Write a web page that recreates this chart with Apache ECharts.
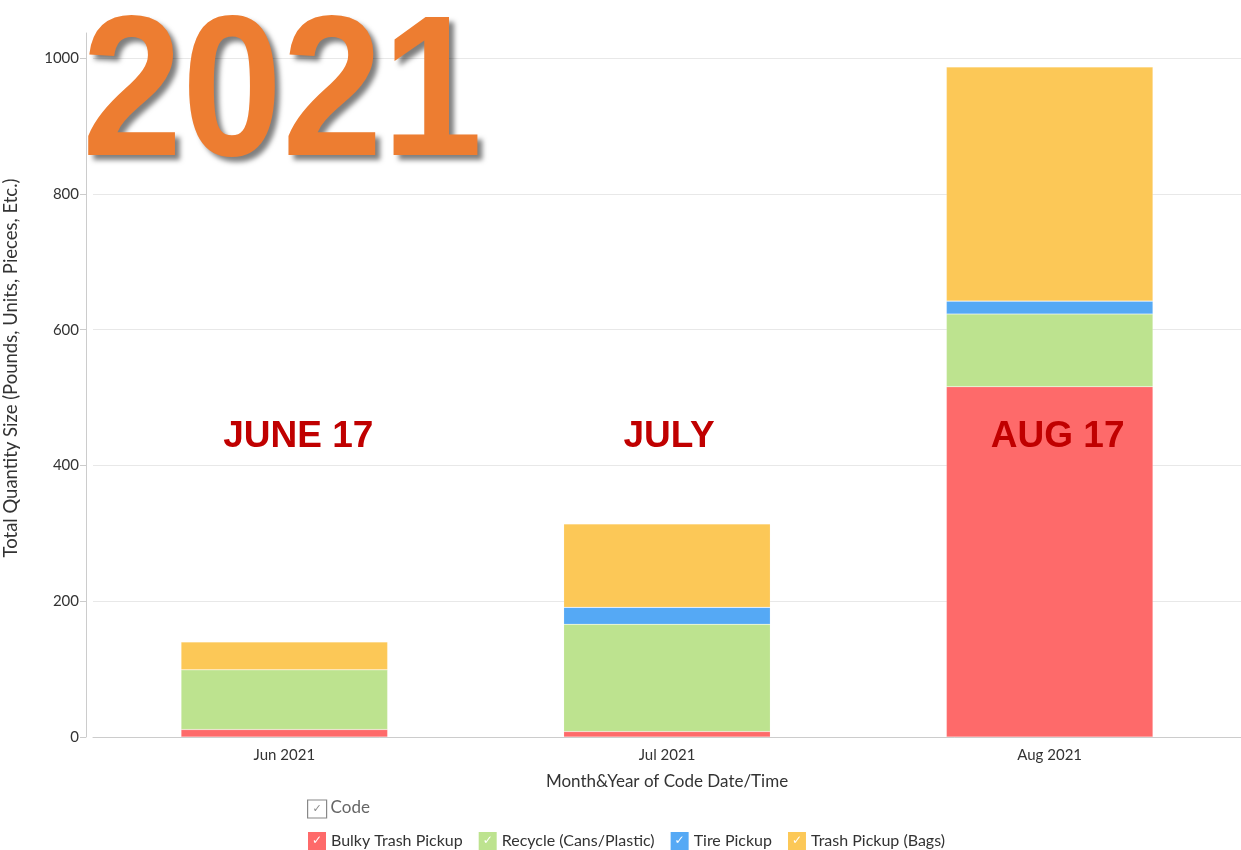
<!DOCTYPE html>
<html>
<head>
<meta charset="utf-8">
<script src="https://cdn.jsdelivr.net/npm/echarts@6/dist/echarts.min.js"></script>
<style>
  html, body { margin: 0; padding: 0; background: #fff; }
  #main { width: 1241px; height: 850px; }
</style>
</head>
<body>
<div id="main"></div>
<script>
// data
var months = ['Jun 2021', 'Jul 2021', 'Aug 2021'];
var bulky = [11, 8, 516];
var recycle = [88, 158, 107];
var tire = [0, 25, 19];
var trashBags = [41, 123, 345];
var seriesNames = ['Bulky Trash Pickup', 'Recycle (Cans/Plastic)', 'Tire Pickup', 'Trash Pickup (Bags)'];
var seriesColors = ['#fe6a6a', '#bde38f', '#55a9f5', '#fcc857'];
var notes = ['JUNE 17', 'JULY', 'AUG 17'];

var chart = echarts.init(document.getElementById('main'));

var rich = {};
seriesNames.forEach(function (n, i) {
  rich['c' + i] = {
    backgroundColor: seriesColors[i], color: '#fff', width: 18, height: 18,
    align: 'center', fontSize: 12, lineHeight: 18, fontFamily: 'DejaVu Sans'
  };
});
rich.t = { color: '#333', fontSize: 16, fontFamily: 'Lato', padding: [0, 0, 0, 5] };

function bar(name, idx, data) {
  return {
    name: name, type: 'bar', stack: 'total', data: data, barWidth: '54%',
    itemStyle: { color: seriesColors[idx], borderColor: 'rgba(255,255,255,0.25)', borderWidth: 0.6 },
    emphasis: { disabled: true }
  };
}

var option = {
  backgroundColor: '#fff',
  animation: false,
  textStyle: { fontFamily: 'Lato' },
  grid: { left: 93, right: 0, top: 33, bottom: 113 },
  legend: {
    data: seriesNames,
    left: 297, top: 826,
    itemWidth: 0, itemHeight: 18, itemGap: 10,
    icon: 'rect',
    selectedMode: false,
    formatter: function (name) {
      var i = seriesNames.indexOf(name);
      return '{c' + i + '|✓}{t|' + name + '}';
    },
    textStyle: { rich: rich }
  },
  xAxis: {
    type: 'category', data: months,
    name: 'Month&Year of Code Date/Time', nameLocation: 'middle', nameGap: 36,
    nameTextStyle: { fontSize: 17, color: '#333', fontFamily: 'Lato' },
    axisLine: { lineStyle: { color: '#ccc' } },
    axisTick: { show: false },
    axisLabel: { fontSize: 15, color: '#333', margin: 11 }
  },
  yAxis: {
    type: 'value', min: 0, max: 1037, interval: 200, offset: 7,
    axisLine: { show: true, lineStyle: { color: '#ccc' } },
    axisTick: { show: true, length: 6, lineStyle: { color: '#ccc' } },
    axisLabel: {
      fontSize: 15, color: '#333', showMaxLabel: false, margin: 7,
      formatter: function (v) { return String(v); }
    },
    splitLine: { lineStyle: { color: '#e8e8e8' }, showMaxLine: false }
  },
  series: [
    bar(seriesNames[0], 0, bulky),
    bar(seriesNames[1], 1, recycle),
    bar(seriesNames[2], 2, tire),
    bar(seriesNames[3], 3, trashBags)
  ],
  graphic: [
    {
      type: 'text', left: 82, top: 0, z: 100, scaleX: 0.9,
      style: {
        text: '2021', fill: '#ed7d31',
        font: 'bold 200px "Liberation Sans", Arial, sans-serif',
        textShadowColor: 'rgba(0,0,0,0.5)', textShadowBlur: 5, textShadowOffsetX: 5, textShadowOffsetY: 5
      }
    },
    {
      type: 'text', x: 11, y: 368, rotation: Math.PI / 2, z: 50,
      style: {
        text: 'Total Quantity Size (Pounds, Units, Pieces, Etc.)', fill: '#333',
        align: 'center', verticalAlign: 'middle', font: '18.5px Lato'
      }
    },
    {
      type: 'group', left: 307, top: 799,
      children: [
        { type: 'rect', shape: { x: 1, y: 1, width: 19, height: 18 }, style: { fill: '#fff', stroke: '#888', lineWidth: 1.2 } },
        { type: 'text', x: 6, y: 5, style: { text: '✓', fill: '#888', font: '11px "DejaVu Sans"' } },
        { type: 'text', x: 24, y: 0, style: { text: 'Code', fill: '#666', font: '17px Lato' } }
      ]
    }
  ]
};
chart.setOption(option);

// red annotations placed over each month column
var nudge = [14, 2, 8];
var annot = notes.map(function (t, i) {
  var p = chart.convertToPixel({ xAxisIndex: 0, yAxisIndex: 0 }, [i, 446]);
  return {
    type: 'text', x: p[0] + nudge[i], y: p[1] + 3, z: 100,
    style: {
      text: t, fill: '#c00000', align: 'center', verticalAlign: 'middle',
      font: 'bold 37px "Liberation Sans", Arial, sans-serif'
    }
  };
});
chart.setOption({ graphic: option.graphic.concat(annot) });
</script>
</body>
</html>
